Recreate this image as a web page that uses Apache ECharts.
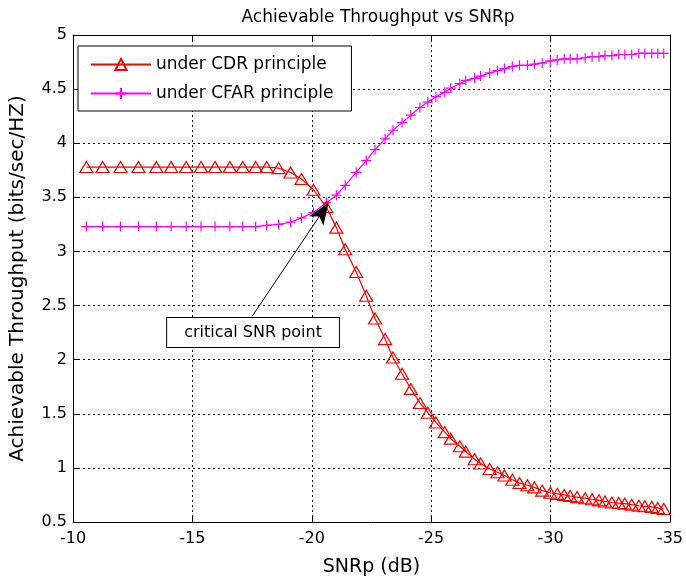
<!DOCTYPE html>
<html>
<head>
<meta charset="utf-8">
<script src="https://cdn.jsdelivr.net/npm/echarts@6/dist/echarts.min.js"></script>
<style>
html, body { margin: 0; padding: 0; background: #fff; }
#main { width: 686px; height: 584px; }
</style>
</head>
<body>
<div id="main"></div>
<script>
// SNRp (dB) of each plotted point
var snrDb = [-10.56, -11.24, -11.99, -12.74, -13.49, -14.11, -14.74, -15.36, -15.95, -16.57,
	-17.11, -17.65, -18.11, -18.61, -19.11, -19.57, -20.07, -20.61, -21.03, -21.40,
	-21.86, -22.28, -22.65, -23.07, -23.40, -23.78, -24.15, -24.53, -24.86, -25.20,
	-25.57, -25.82, -26.20, -26.45, -26.82, -27.07, -27.45, -27.78, -28.07, -28.40,
	-28.70, -29.03, -29.32, -29.65, -29.99, -30.28, -30.57, -30.82, -31.11, -31.45,
	-31.74, -32.03, -32.28, -32.57, -32.86, -33.11, -33.40, -33.70, -33.95, -34.24,
	-34.49, -34.74];
// under CDR principle
var cdr = [3.78, 3.78, 3.78, 3.78, 3.78, 3.78, 3.78, 3.78, 3.78, 3.78,
	3.78, 3.78, 3.78, 3.77, 3.73, 3.67, 3.57, 3.41, 3.22, 3.02,
	2.81, 2.59, 2.38, 2.19, 2.02, 1.87, 1.73, 1.60, 1.51, 1.42,
	1.33, 1.27, 1.20, 1.15, 1.08, 1.04, 0.99, 0.96, 0.93, 0.89,
	0.86, 0.84, 0.82, 0.79, 0.77, 0.76, 0.75, 0.74, 0.73, 0.72,
	0.71, 0.70, 0.69, 0.68, 0.675, 0.67, 0.66, 0.65, 0.645, 0.64,
	0.63, 0.62];
// under CFAR principle
var cfar = [3.23, 3.23, 3.23, 3.23, 3.23, 3.23, 3.23, 3.23, 3.23, 3.23,
	3.23, 3.23, 3.24, 3.25, 3.27, 3.31, 3.36, 3.45, 3.52, 3.61,
	3.73, 3.84, 3.94, 4.04, 4.12, 4.19, 4.26, 4.33, 4.38, 4.43,
	4.47, 4.51, 4.55, 4.58, 4.60, 4.62, 4.65, 4.67, 4.69, 4.71,
	4.72, 4.72, 4.73, 4.74, 4.76, 4.77, 4.78, 4.78, 4.78, 4.79,
	4.80, 4.80, 4.81, 4.81, 4.82, 4.82, 4.82, 4.83, 4.83, 4.83,
	4.83, 4.83];
var seriesNames = ['under CDR principle', 'under CFAR principle'];
// annotation: arrow from the text box to the critical point
var arrowFrom = [-17.5, 2.4];
var arrowTo = [-20.7, 3.45];
var noteAt = [-17.54, 2.25];
var noteText = 'critical SNR point';

var font = 'DejaVu Sans, Liberation Sans, sans-serif';
var myChart = echarts.init(document.getElementById('main'));

function pairs(ys) {
	var out = [];
	for (var i = 0; i < snrDb.length; i++) {
		out.push([snrDb[i], ys[i]]);
	}
	return out;
}

var plusPath = 'path://M0,-10L0,10M-10,0L10,0';

var option = {
	animation : false,
	backgroundColor : '#fff',
	title : {
		text : 'Achievable Throughput vs SNRp',
		left : 373,
		textAlign : 'center',
		top : 4,
		textStyle : { color : '#000', fontSize : 17, fontWeight : 'normal', fontFamily : font }
	},
	legend : {
		orient : 'vertical',
		left : 78,
		top : 46,
		padding : [10, 18, 9, 12],
		itemGap : 12,
		itemWidth : 60,
		itemHeight : 14,
		borderColor : '#000',
		borderWidth : 1,
		backgroundColor : '#fff',
		textStyle : { color : '#000', fontSize : 17, fontFamily : font },
		data : seriesNames
	},
	grid : {
		left : 73,
		right : 13,
		top : 35,
		bottom : 62
	},
	xAxis : [{
		type : 'value',
		inverse : true,
		min : -35,
		max : -10,
		interval : 5,
		name : 'SNRp (dB)',
		nameLocation : 'middle',
		nameGap : 36,
		nameTextStyle : { color : '#000', fontSize : 19, fontFamily : font },
		axisLine : { show : true, onZero : false, lineStyle : { color : '#000', width : 1 } },
		axisTick : { show : true, inside : true, length : 5, lineStyle : { color : '#000' } },
		axisLabel : { color : '#000', fontSize : 16, fontFamily : font, margin : 9 },
		splitLine : { show : true, lineStyle : { color : '#000', type : [2, 3], width : 1 } }
	}, {
		type : 'value',
		position : 'top',
		inverse : true,
		min : -35,
		max : -10,
		interval : 5,
		axisLine : { show : true, onZero : false, lineStyle : { color : '#000', width : 1 } },
		axisTick : { show : true, inside : true, length : 5, lineStyle : { color : '#000' } },
		axisLabel : { show : false },
		splitLine : { show : false }
	}],
	yAxis : [{
		type : 'value',
		min : 0.5,
		max : 5,
		interval : 0.5,
		name : 'Achievable Throughput (bits/sec/HZ)',
		nameLocation : 'middle',
		nameGap : 45,
		nameTextStyle : { color : '#000', fontSize : 20, fontFamily : font },
		axisLine : { show : true, onZero : false, lineStyle : { color : '#000', width : 1 } },
		axisTick : { show : true, inside : true, length : 5, lineStyle : { color : '#000' } },
		axisLabel : { color : '#000', fontSize : 16, fontFamily : font, margin : 6 },
		splitLine : { show : true, lineStyle : { color : '#000', type : [2, 3], width : 1 } }
	}, {
		type : 'value',
		position : 'right',
		min : 0.5,
		max : 5,
		interval : 0.5,
		axisLine : { show : true, onZero : false, lineStyle : { color : '#000', width : 1 } },
		axisTick : { show : true, inside : true, length : 5, lineStyle : { color : '#000' } },
		axisLabel : { show : false },
		splitLine : { show : false }
	}],
	series : [
		{
			name : seriesNames[0],
			type : 'line',
			data : pairs(cdr),
			symbol : 'triangle',
			symbolSize : [13, 11],
			showAllSymbol : true,
			itemStyle : { color : 'rgba(255,255,255,0)', borderColor : '#ff0000', borderWidth : 1.2 },
			lineStyle : { color : '#ff0000', width : 1.2 },
			z : 3,
			markLine : {
				silent : true,
				symbol : ['none', 'arrow'],
				symbolSize : [13, 22],
				label : { show : false },
				lineStyle : { color : '#000', width : 1, type : 'solid' },
				data : [[{ coord : arrowFrom }, { coord : arrowTo }]]
			},
			markPoint : {
				silent : true,
				symbol : 'rect',
				symbolSize : [1, 1],
				itemStyle : { color : 'rgba(0,0,0,0)' },
				label : {
					show : true,
					position : 'inside',
					formatter : noteText,
					color : '#000',
					fontSize : 16,
					fontFamily : font,
					backgroundColor : '#fff',
					borderColor : '#000',
					borderWidth : 1,
					padding : [7, 17, 6, 17]
				},
				data : [{ coord : noteAt }]
			}
		},
		{
			name : seriesNames[1],
			type : 'line',
			data : pairs(cfar),
			symbol : plusPath,
			symbolSize : 10,
			showAllSymbol : true,
			itemStyle : { color : 'rgba(255,255,255,0)', borderColor : '#ff00ff', borderWidth : 1.2 },
			lineStyle : { color : '#ff00ff', width : 1.2 },
			z : 2
		}
	]
};
myChart.setOption(option);
</script>
</body>
</html>
